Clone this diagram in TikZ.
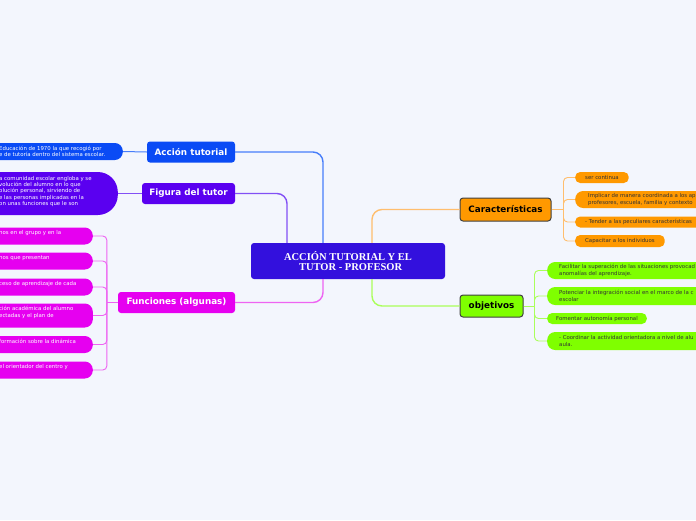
\documentclass[tikz,border=0pt]{standalone}
\usepackage{fontspec}
\setmainfont{DejaVu Sans}
\newfontfamily\serifb{Liberation Serif}
\definecolor{bg}{RGB}{243,246,253}
\definecolor{cblue}{RGB}{10,75,245}
\definecolor{cpurple}{RGB}{90,0,240}
\definecolor{cmag}{RGB}{230,0,240}
\definecolor{ccentral}{RGB}{51,16,221}
\definecolor{corange}{RGB}{255,153,0}
\definecolor{cgreen}{RGB}{127,255,0}
\definecolor{lblue}{RGB}{70,125,250}
\definecolor{lpurple}{RGB}{130,80,245}
\definecolor{lmag}{RGB}{238,100,242}
\definecolor{lorange}{RGB}{255,190,110}
\definecolor{lgreen}{RGB}{170,255,90}
\tikzset{
  mainbox/.style={rounded corners=3pt, text=white, font=\bfseries\fontsize{8.8}{10}\selectfont, inner sep=0pt, minimum height=21pt},
  darkbox/.style={rounded corners=3pt, draw=black!75, line width=1pt, text=black, font=\bfseries\fontsize{8.8}{10}\selectfont, inner sep=0pt},
  central/.style={rounded corners=3pt, fill=ccentral, text=white, font=\serifb\bfseries\fontsize{10.5}{10.5}\selectfont, align=center, inner sep=0pt, minimum width=194pt, minimum height=36pt},
  leafshape/.style={rounded corners=8pt, inner sep=0pt},
  ltext/.style={font=\fontsize{5.4}{6.4}\selectfont, align=left, inner sep=0pt},
  stext/.style={font=\fontsize{5.4}{6.4}\selectfont},
  conn/.style={line width=1.4pt, rounded corners=10pt},
  br/.style={line width=0.9pt, rounded corners=4pt}
}
\begin{document}
\begin{tikzpicture}[x=1pt,y=-1pt]
\useasboundingbox (0,0) rectangle (696,520);
\fill[bg] (0,0) rectangle (696,520);
\clip (0,0) rectangle (696,520);

% central and main nodes
\node[central] (c) at (348,261) {ACCIÓN TUTORIAL Y EL\\ \ \ TUTOR - PROFESOR};
\node[mainbox, fill=cblue, minimum width=88pt] (at) at (191,152) {Acción tutorial};
\node[mainbox, fill=cpurple, minimum width=93pt] (ft) at (188.5,193.5) {Figura del tutor};
\node[mainbox, fill=cmag, minimum width=117pt] (fn) at (176.5,302.5) {Funciones (algunas)};
\node[darkbox, fill=corange, minimum width=91pt, minimum height=23pt] (car) at (505.5,209.5) {Características};
\node[darkbox, fill=cgreen, minimum width=63pt, minimum height=22pt] (obj) at (491.5,306) {objetivos};

% main connectors
\draw[conn, lblue] (at.east) -| ([xshift=-25pt]c.north);
\draw[conn, lpurple] (ft.east) -| ([xshift=-61pt]c.north);
\draw[conn, lmag] (fn.east) -| ([xshift=-25pt]c.south);
\draw[conn, lorange] ([xshift=24pt]c.north) |- (car.west);
\draw[conn, lgreen] ([xshift=24pt]c.south) |- (obj.west);

% Accion tutorial leaf
\node[leafshape, fill=cblue, minimum width=170pt, minimum height=17pt, anchor=east] (atl) at (123,151.5) {};
\node[ltext, text=white, anchor=west] (atlt) at (-1,151.5) {Educación de 1970 la que recogió por\\e de tutoría dentro del sistema escolar.};
\draw[line width=1pt, lblue] (at.west) -- (atl.east);

% Figura leaf
\node[leafshape, rounded corners=20pt, fill=cpurple, minimum width=200pt, minimum height=43pt, anchor=east] (ftl) at (118,193.5) {};
\node[ltext, text=white, anchor=west] (ftlt) at (-1,191.5) {a comunidad escolar engloba y se\\volución del alumno en lo que\\olución personal, sirviendo de\\e las personas implicadas en la\\on unas funciones que le son};
\draw[line width=1pt, lpurple] (ft.west) -- (ftl.east);

% Funciones leaves
\node[leafshape, fill=cmag, minimum width=200pt, minimum height=17pt, anchor=east] (f1) at (93,236) {};
\node[leafshape, fill=cmag, minimum width=200pt, minimum height=17pt, anchor=east] (f2) at (93,261) {};
\node[leafshape, fill=cmag, minimum width=200pt, minimum height=17pt, anchor=east] (f3) at (93,287) {};
\node[leafshape, fill=cmag, minimum width=200pt, minimum height=24pt, anchor=east] (f4) at (93,315.5) {};
\node[leafshape, fill=cmag, minimum width=200pt, minimum height=17pt, anchor=east] (f5) at (93,344.5) {};
\node[leafshape, fill=cmag, minimum width=200pt, minimum height=17pt, anchor=east] (f6) at (93,370) {};
\node[ltext, text=white, anchor=west] (f1t) at (-1,233) {nos en el grupo y en la};
\node[ltext, text=white, anchor=west] (f2t) at (-1,258) {nos que presentan};
\node[ltext, text=white, anchor=west] (f3t) at (-1,284) {ceso de aprendizaje de cada};
\node[ltext, text=white, anchor=west] (f4t) at (-1,312.5) {ción académica del alumno\\ectadas y el plan de};
\node[ltext, text=white, anchor=west] (f5t) at (-1,341.5) {formación sobre la dinámica};
\node[ltext, text=white, anchor=west] (f6t) at (-1,367) {el orientador del centro y};
\draw[line width=1pt, lmag] (fn.west) -- ([xshift=-11pt]fn.west);
\foreach \n in {f1,f2,f3,f4,f5,f6}
  \draw[br, lmag] ([xshift=-11pt]fn.west) |- (\n.east);

% Caracteristicas leaves
\node[leafshape, rounded corners=5pt, fill=corange, minimum height=11pt, inner xsep=10pt, anchor=west, text=black!80, stext] (o1) at (575,177.5) {ser continua};
\node[leafshape, fill=corange, minimum width=200pt, minimum height=17pt, anchor=west] (o2) at (575,199.5) {};
\node[ltext, text=black!80, anchor=west] (o2t) at (588,199.5) {Implicar de manera coordinada a los ap\\profesores, escuela, familia y contexto};
\node[leafshape, rounded corners=5pt, fill=corange, minimum width=200pt, minimum height=11pt, anchor=west] (o3) at (575,222) {};
\node[ltext, text=black!80, anchor=west] (o3t) at (585,222) {- Tender a las peculiares características};
\node[leafshape, rounded corners=5pt, fill=corange, minimum height=12pt, inner xsep=10pt, anchor=west, text=black!80, stext] (o4) at (575,241) {Capacitar a los individuos};
\draw[line width=1pt, lorange] (car.east) -- ([xshift=12pt]car.east);
\foreach \n in {o1,o2,o3,o4}
  \draw[br, lorange] ([xshift=12pt]car.east) |- (\n.west);

% objetivos leaves
\node[leafshape, fill=cgreen, minimum width=200pt, minimum height=17pt, anchor=west] (g1) at (547,270.5) {};
\node[ltext, text=black!80, anchor=west] (g1t) at (559,270.5) {Facilitar la superación de las situaciones provocad\\anomalías del aprendizaje.};
\node[leafshape, fill=cgreen, minimum width=200pt, minimum height=18pt, anchor=west] (g2) at (547,296) {};
\node[ltext, text=black!80, anchor=west] (g2t) at (559,296) {Potenciar la integración social en el marco de la c\\escolar};
\node[leafshape, rounded corners=5pt, fill=cgreen, minimum height=11pt, inner xsep=9pt, anchor=west, text=black!80, stext] (g3) at (547,318.5) {Fomentar autonomía personal};
\node[leafshape, fill=cgreen, minimum width=200pt, minimum height=18pt, anchor=west] (g4) at (547,341) {};
\node[ltext, text=black!80, anchor=west] (g4t) at (559,341) {- Coordinar la actividad orientadora a nivel de alu\\aula.};
\draw[line width=1pt, lgreen] (obj.east) -- ([xshift=11pt]obj.east);
\foreach \n in {g1,g2,g3,g4}
  \draw[br, lgreen] ([xshift=11pt]obj.east) |- (\n.west);
\end{tikzpicture}
\end{document}
